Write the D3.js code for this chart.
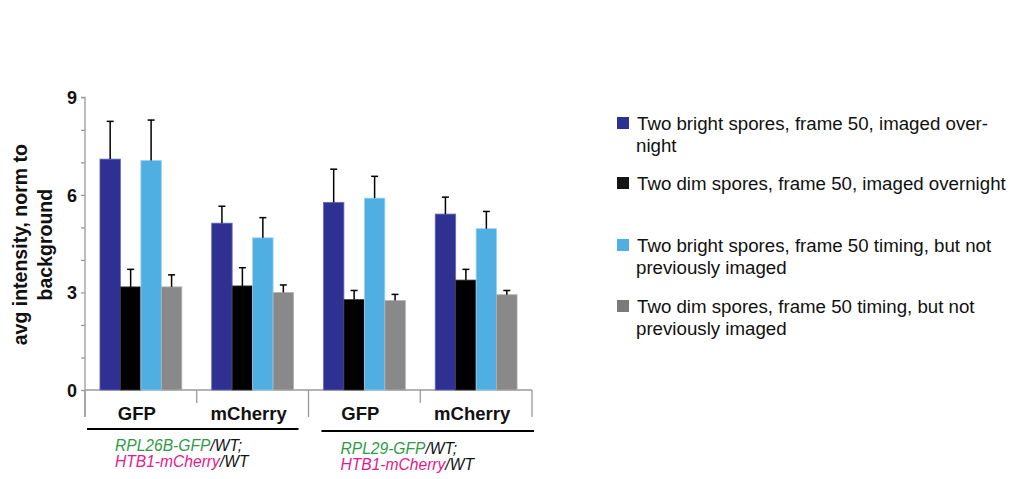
<!DOCTYPE html>
<html>
<head>
<meta charset="utf-8">
<script src="https://cdn.jsdelivr.net/npm/d3@7/dist/d3.min.js"></script>
<style>
  html, body { margin: 0; padding: 0; background: #fff; }
  svg { display: block; font-family: "Liberation Sans", Arial, Helvetica, sans-serif; }
</style>
</head>
<body>
<svg id="chart" width="1013" height="479"></svg>
<script>
// Categories along the x axis (fluorescent channel), grouped by strain
const categories = ["GFP", "mCherry", "GFP", "mCherry"];
const strainGroups = [
  { first: 0, last: 1, gfp: "RPL26B-GFP", cherry: "HTB1-mCherry" },
  { first: 2, last: 3, gfp: "RPL29-GFP", cherry: "HTB1-mCherry" }
];

// Series names (legend text, already broken into lines)
const seriesNames = [
  ["Two bright spores, frame 50, imaged over-", "night"],
  ["Two dim spores, frame 50, imaged overnight"],
  ["Two bright spores, frame 50 timing, but not", "previously imaged"],
  ["Two dim spores, frame 50 timing, but not", "previously imaged"]
];
const seriesColors = ["#2e3192", "#000000", "#4faee2", "#898989"];
const seriesEdges  = ["#6a6db8", "#3a3a3a", "#9fd3f2", "#b0b0b0"];
const legendColors = ["#2e3192", "#151515", "#4faee2", "#7a7a7a"];

// Mean intensity per series (one value per category)
const brightOvernight    = [7.10, 5.13, 5.77, 5.41];
const dimOvernight       = [3.17, 3.20, 2.78, 3.38];
const brightNotImaged    = [7.06, 4.68, 5.90, 4.96];
const dimNotImaged       = [3.17, 3.00, 2.75, 2.93];

// Upper error (SD) per series
const brightOvernightErr = [1.16, 0.52, 1.02, 0.52];
const dimOvernightErr    = [0.54, 0.56, 0.28, 0.33];
const brightNotImagedErr = [1.24, 0.62, 0.67, 0.53];
const dimNotImagedErr    = [0.37, 0.23, 0.19, 0.13];

// Axis ticks
const yTickLabels = [0, 3, 6, 9];
const yMinorTicks = [0, 1, 2, 3, 4, 5, 6, 7, 8, 9];

const seriesValues = [brightOvernight, dimOvernight, brightNotImaged, dimNotImaged];
const seriesErrors = [brightOvernightErr, dimOvernightErr, brightNotImagedErr, dimNotImagedErr];

const svg = d3.select("#chart");

const plot = { left: 85, right: 532, top: 97.3, bottom: 390 };

const y = d3.scaleLinear().domain([0, 9]).range([plot.bottom, plot.top]);
const x0 = d3.scaleBand()
  .domain(d3.range(categories.length))
  .range([plot.left, plot.right])
  .paddingInner(0).paddingOuter(0);
const x1 = d3.scaleBand()
  .domain(d3.range(seriesValues.length))
  .range([0, x0.bandwidth()])
  .paddingInner(0).paddingOuter(0.73);

const axisColor = "#9a9a9a";

// Y axis: minor ticks every unit, labels every 3
const yAxis = svg.append("g")
  .attr("transform", `translate(${plot.left},0)`)
  .call(d3.axisLeft(y).tickValues(yMinorTicks).tickSize(4).tickFormat(""));
yAxis.select(".domain").attr("stroke", axisColor).attr("stroke-width", 1.3)
  .attr("d", `M-4,${plot.top}H0V${plot.bottom + 27}`);
yAxis.selectAll(".tick line").attr("stroke", axisColor).attr("stroke-width", 1.3);

svg.append("g").selectAll("text")
  .data(yTickLabels)
  .join("text")
  .attr("x", plot.left - 8)
  .attr("y", d => y(d))
  .attr("dy", "0.37em")
  .attr("text-anchor", "end")
  .attr("font-weight", "bold")
  .attr("font-size", 18)
  .attr("fill", "#111")
  .text(d => d);

// Y axis title
svg.append("text")
  .attr("transform", `translate(27,${(plot.top + plot.bottom) / 2 + 1}) rotate(-90)`)
  .attr("text-anchor", "middle")
  .attr("font-weight", "bold")
  .attr("font-size", 19.5)
  .attr("fill", "#111")
  .selectAll("tspan")
  .data(["avg intensity, norm to", "background"])
  .join("tspan")
  .attr("x", 0)
  .attr("dy", (d, i) => i === 0 ? 0 : 25)
  .text(d => d);

// X axis baseline and category dividers
svg.append("line")
  .attr("x1", plot.left).attr("x2", plot.right)
  .attr("y1", plot.bottom).attr("y2", plot.bottom)
  .attr("stroke", axisColor).attr("stroke-width", 1.3);

const boundaries = d3.range(categories.length + 1);
svg.append("g").selectAll("line")
  .data(boundaries)
  .join("line")
  .attr("x1", i => i < categories.length ? x0(i) : plot.right)
  .attr("x2", i => i < categories.length ? x0(i) : plot.right)
  .attr("y1", plot.bottom)
  .attr("y2", i => (i % 2 === 0) ? plot.bottom + 27 : plot.bottom + 13)
  .attr("stroke", axisColor).attr("stroke-width", 1.3);

// Category labels
svg.append("g").selectAll("text")
  .data(categories)
  .join("text")
  .attr("x", (d, i) => x0(i) + x0.bandwidth() / 2 - 4)
  .attr("y", plot.bottom + 30)
  .attr("text-anchor", "middle")
  .attr("font-weight", "bold")
  .attr("font-size", 18.5)
  .attr("fill", "#111")
  .text(d => d);

// Bars
const groups = svg.append("g").selectAll("g")
  .data(categories.map((c, i) => i))
  .join("g")
  .attr("transform", i => `translate(${x0(i)},0)`);

groups.selectAll("rect")
  .data(i => seriesValues.map((vals, s) => ({ s, v: vals[i], e: seriesErrors[s][i] })))
  .join("rect")
  .attr("x", d => x1(d.s))
  .attr("width", x1.bandwidth())
  .attr("y", d => y(d.v))
  .attr("height", d => y(0) - y(d.v))
  .attr("fill", d => seriesColors[d.s])
  .attr("stroke", d => seriesEdges[d.s])
  .attr("stroke-width", 0.8);

// Upper error bars
const errs = groups.selectAll("g.err")
  .data(i => seriesValues.map((vals, s) => ({ s, v: vals[i], e: seriesErrors[s][i] })))
  .join("g").attr("class", "err");
errs.append("line")
  .attr("x1", d => x1(d.s) + x1.bandwidth() / 2)
  .attr("x2", d => x1(d.s) + x1.bandwidth() / 2)
  .attr("y1", d => y(d.v))
  .attr("y2", d => y(d.v + d.e))
  .attr("stroke", "#000").attr("stroke-width", 1.5);
errs.append("line")
  .attr("x1", d => x1(d.s) + x1.bandwidth() / 2 - 3.5)
  .attr("x2", d => x1(d.s) + x1.bandwidth() / 2 + 3.5)
  .attr("y1", d => y(d.v + d.e))
  .attr("y2", d => y(d.v + d.e))
  .attr("stroke", "#000").attr("stroke-width", 1.5);

// Strain group underlines and genotype labels
const strainOffsets = [
  { l: 2, r: -10, dy: 0, tx: 30, ty: 0 },
  { l: 13, r: 2, dy: 2, tx: 32, ty: 3 }
];
strainGroups.forEach((g, k) => {
  const off = strainOffsets[k];
  const xl = x0(g.first) + off.l;
  const xr = x0(g.last) + x0.bandwidth() + off.r;
  const ly = plot.bottom + 39 + off.dy;
  svg.append("line")
    .attr("x1", xl).attr("x2", xr)
    .attr("y1", ly).attr("y2", ly)
    .attr("stroke", "#000").attr("stroke-width", 2);

  const t = svg.append("text")
    .attr("font-style", "italic")
    .attr("font-size", 15.6)
    .attr("x", x0(g.first) + off.tx)
    .attr("y", 451 + off.ty);
  t.append("tspan").attr("fill", "#2f9a46").text(g.gfp);
  t.append("tspan").attr("fill", "#111").text("/WT;");

  const t2 = svg.append("text")
    .attr("font-style", "italic")
    .attr("font-size", 15.6)
    .attr("x", x0(g.first) + off.tx)
    .attr("y", 467 + off.ty);
  t2.append("tspan").attr("fill", "#e5198a").text(g.cherry);
  t2.append("tspan").attr("fill", "#111").text("/WT");
});

// Legend
const legendTop = [130, 190, 252, 313];
const legend = svg.append("g").selectAll("g")
  .data(seriesNames)
  .join("g")
  .attr("transform", (d, i) => `translate(617,${legendTop[i]})`);
legend.append("rect")
  .attr("x", 0).attr("y", -13)
  .attr("width", 12).attr("height", 12)
  .attr("fill", (d, i) => legendColors[i]);
legend.append("text")
  .attr("font-size", 18.7)
  .attr("fill", "#111")
  .selectAll("tspan")
  .data(d => d)
  .join("tspan")
  .attr("x", (d, j) => j === 0 ? 20 : 19)
  .attr("y", (d, j) => j * 22)
  .text(d => d);
</script>
</body>
</html>
